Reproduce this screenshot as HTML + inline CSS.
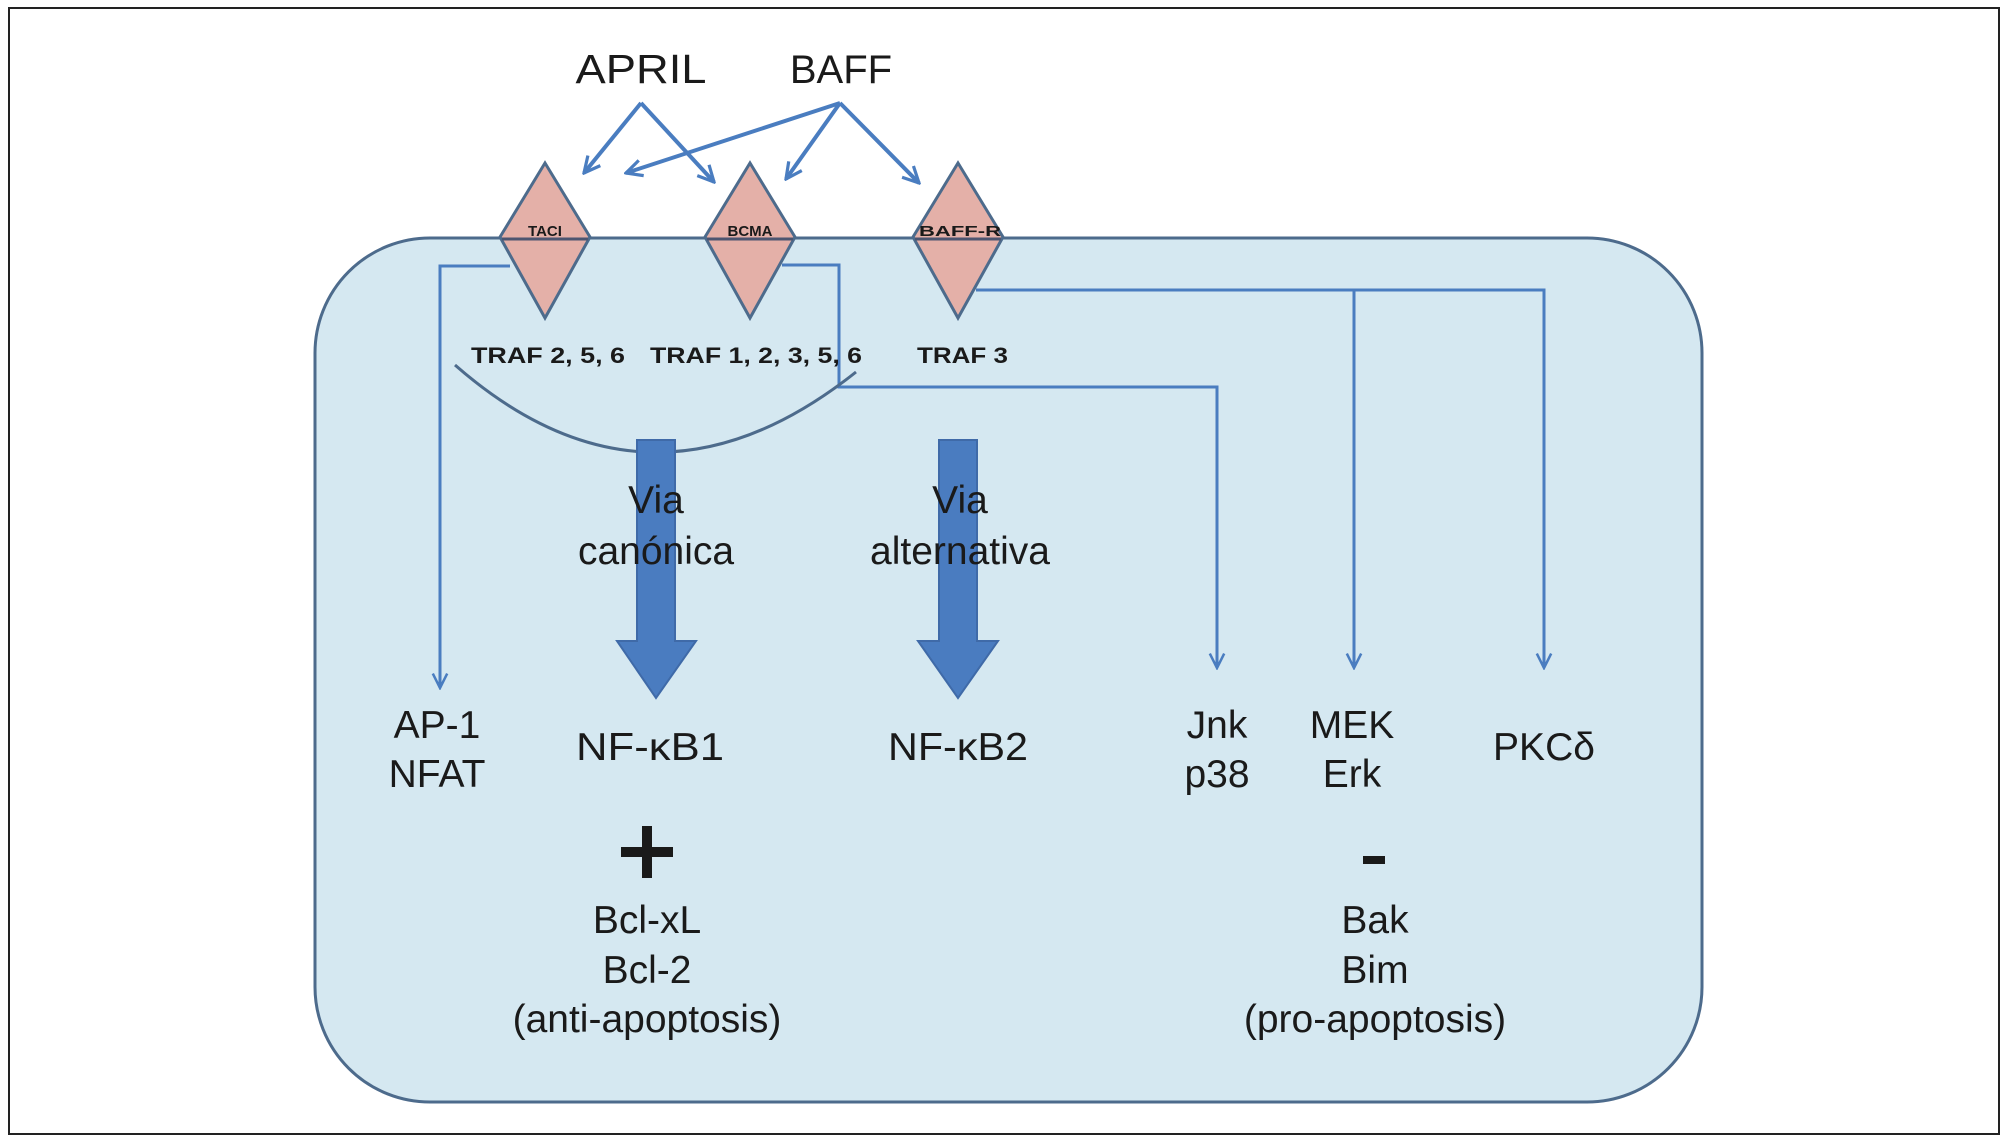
<!DOCTYPE html>
<html><head><meta charset="utf-8"><style>
html,body{margin:0;padding:0;background:#fff;}
svg{display:block;}
text{font-family:"Liberation Sans",sans-serif;fill:#1a1a1a;}
</style></head><body>
<svg width="2009" height="1141" viewBox="0 0 2009 1141" xmlns="http://www.w3.org/2000/svg">
<defs>
<marker id="ah" viewBox="0 0 10 10" refX="9" refY="5" markerWidth="5" markerHeight="5" orient="auto" markerUnits="strokeWidth">
<path d="M1,1 L9,5 L1,9" fill="none" stroke="#4a7dc0" stroke-width="1.6"/>
</marker>
<marker id="ah2" viewBox="0 0 10 10" refX="9" refY="5" markerWidth="6" markerHeight="6" orient="auto" markerUnits="strokeWidth">
<path d="M1,1 L9,5 L1,9" fill="none" stroke="#4a7dc0" stroke-width="1.4"/>
</marker>
</defs>
<rect x="9" y="8" width="1990" height="1126" fill="#fff" stroke="#222" stroke-width="2"/>
<!-- cell -->
<rect x="315" y="238" width="1387" height="864" rx="115" ry="115" fill="#d5e8f1" stroke="#4d6b8c" stroke-width="3"/>
<!-- ligand arrows -->
<g stroke="#4a7dc0" stroke-width="4" fill="none" marker-end="url(#ah)">
<line x1="641" y1="103" x2="584" y2="173"/>
<line x1="641" y1="103" x2="714" y2="182"/>
<line x1="840" y1="103" x2="626" y2="173"/>
<line x1="840" y1="103" x2="786" y2="179"/>
<line x1="840" y1="103" x2="919" y2="183"/>
</g>
<text x="641" y="83" font-size="41" text-anchor="middle" textLength="131" lengthAdjust="spacingAndGlyphs">APRIL</text>
<text x="841" y="83" font-size="40" text-anchor="middle">BAFF</text>
<!-- signaling lines -->
<g stroke="#4a7dc0" stroke-width="3" fill="none">
<polyline points="510,266 440,266 440,688" marker-end="url(#ah2)"/>
<polyline points="782,265 839,265 839,387 1217,387 1217,668" marker-end="url(#ah2)"/>
<polyline points="976,290 1544,290 1544,668" marker-end="url(#ah2)"/>
<line x1="1354" y1="290" x2="1354" y2="668" marker-end="url(#ah2)"/>
</g>
<path d="M455 365 Q 650 536 856 372" fill="none" stroke="#4d6b8c" stroke-width="3"/>
<!-- diamonds -->
<g fill="#e4b0a8" stroke="#4d6b8c" stroke-width="3">
<polygon points="545,163 590,237 545,318 500,237"/>
<polygon points="750,163 795,237 750,318 705,237"/>
<polygon points="958,163 1003,237 958,318 913,237"/>
</g>
<g stroke="#4d5570" stroke-width="3">
<line x1="502" y1="239" x2="588" y2="239"/>
<line x1="707" y1="239" x2="793" y2="239"/>
<line x1="915" y1="239" x2="1001" y2="239"/>
</g>
<g font-size="15" font-weight="bold" text-anchor="middle">
<text x="545" y="236">TACI</text>
<text x="750" y="236">BCMA</text>
<text x="960" y="236" textLength="82" lengthAdjust="spacingAndGlyphs">BAFF-R</text>
</g>
<g font-size="22" font-weight="bold">
<text x="471" y="363" textLength="154" lengthAdjust="spacingAndGlyphs">TRAF 2, 5, 6</text>
<text x="650" y="363" textLength="212" lengthAdjust="spacingAndGlyphs">TRAF 1, 2, 3, 5, 6</text>
<text x="917" y="363" textLength="91" lengthAdjust="spacingAndGlyphs">TRAF 3</text>
</g>
<!-- thick arrows -->
<g fill="#4a7cc0" stroke="#3f6aa8" stroke-width="2">
<polygon points="637,440 675,440 675,641 696,641 656,698 617,641 637,641"/>
<polygon points="939,440 977,440 977,641 998,641 958,698 918,641 939,641"/>
</g>
<g font-size="39" text-anchor="middle">
<text x="656" y="513">Via</text>
<text x="656" y="564">canónica</text>
<text x="960" y="513">Via</text>
<text x="960" y="564">alternativa</text>
<text x="437" y="738">AP-1</text>
<text x="437" y="787">NFAT</text>
<text x="650" y="760" textLength="148" lengthAdjust="spacingAndGlyphs">NF-κB1</text>
<text x="958" y="760" textLength="140" lengthAdjust="spacingAndGlyphs">NF-κB2</text>
<text x="1217" y="738">Jnk</text>
<text x="1217" y="787">p38</text>
<text x="1352" y="738">MEK</text>
<text x="1352" y="787">Erk</text>
<text x="1544" y="760">PKCδ</text>
<text x="647" y="933">Bcl-xL</text>
<text x="647" y="983">Bcl-2</text>
<text x="647" y="1032">(anti-apoptosis)</text>
<text x="1375" y="933">Bak</text>
<text x="1375" y="983">Bim</text>
<text x="1375" y="1032">(pro-apoptosis)</text>
</g>
<rect x="621" y="847" width="52" height="10" fill="#1a1a1a"/>
<rect x="642" y="826" width="10" height="52" fill="#1a1a1a"/>
<rect x="1363" y="856" width="22" height="8" fill="#1a1a1a"/>
</svg>
</body></html>
